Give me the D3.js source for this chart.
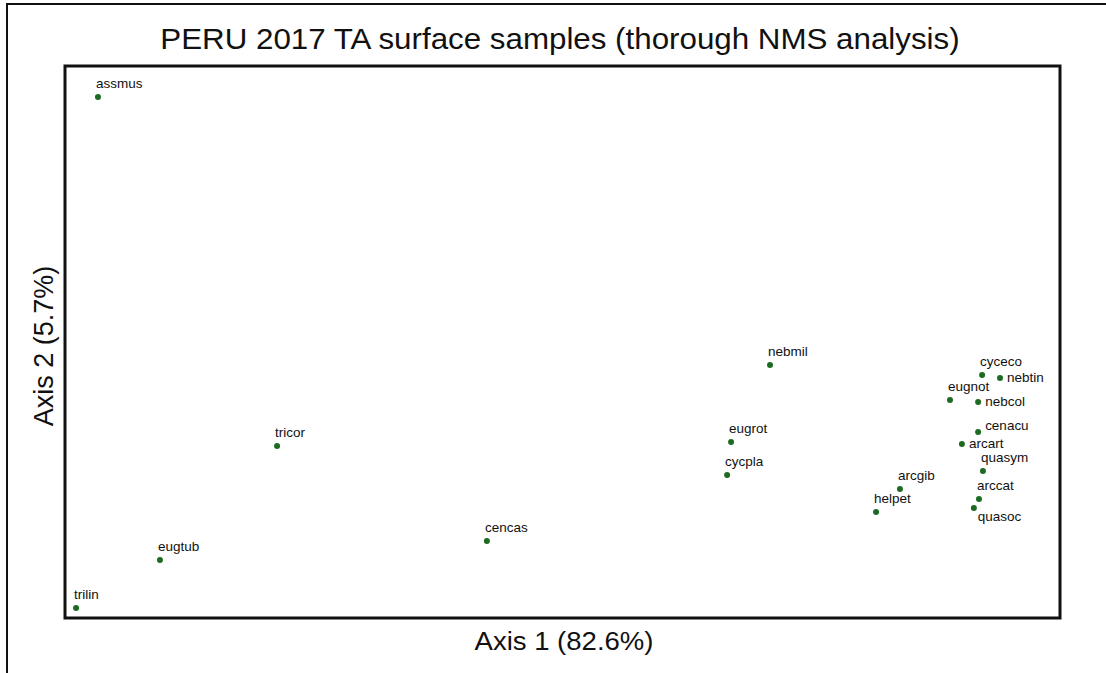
<!DOCTYPE html>
<html>
<head>
<meta charset="utf-8">
<script src="https://cdn.jsdelivr.net/npm/d3@7"></script>
<style>
  body { margin: 0; background: #fff; }
  text { font-family: "Liberation Sans", Arial, sans-serif; fill: #111; }
</style>
</head>
<body>
<div id="chart"></div>
<script>
// species codes and their NMS scores
var species = ["assmus", "trilin", "eugtub", "tricor", "cencas", "nebmil", "eugrot", "cycpla",
               "helpet", "arcgib", "cyceco", "nebtin", "eugnot", "nebcol", "cenacu", "arcart",
               "quasym", "arccat", "quasoc"];
var axis1 = [-1.884, -1.961, -1.666, -1.254, -0.516, 0.480, 0.343, 0.329,
             0.853, 0.937, 1.226, 1.289, 1.113, 1.212, 1.212, 1.155,
             1.229, 1.215, 1.197];
var axis2 = [1.254, -1.153, -0.927, -0.390, -0.837, -0.008, -0.371, -0.526,
             -0.701, -0.592, -0.055, -0.070, -0.173, -0.183, -0.324, -0.380,
             -0.508, -0.640, -0.682];

var title = "PERU 2017 TA surface samples (thorough NMS analysis)";
var xTitle = "Axis 1 (82.6%)";
var yTitle = "Axis 2 (5.7%)";

function init() {
    var w = 1106, h = 673;
    var left = 65, right = 1060, top = 66, bottom = 618;
    var stretch = 1.08; // horizontal text is drawn a little wide

    var svg = d3.select("#chart").append("svg")
        .attr("width", w)
        .attr("height", h);

    // outer frame, cut off at right and bottom
    svg.append("path")
        .attr("d", "M7," + h + " V4 H" + w)
        .attr("fill", "none")
        .attr("stroke", "#111")
        .attr("stroke-width", 2);

    var x = d3.scaleLinear().domain([-2.0, 1.5]).range([left, right]);
    var y = d3.scaleLinear().domain([-1.2, 1.4]).range([bottom, top]);

    // plot box
    svg.append("rect")
        .attr("x", left).attr("y", top)
        .attr("width", right - left).attr("height", bottom - top)
        .attr("fill", "none")
        .attr("stroke", "#111")
        .attr("stroke-width", 3);

    // title and axis titles
    svg.append("text")
        .attr("transform", "translate(560,49) scale(" + stretch + ",1)")
        .attr("text-anchor", "middle")
        .attr("font-size", "29px")
        .text(title);

    svg.append("text")
        .attr("transform", "translate(564,650) scale(" + stretch + ",1)")
        .attr("text-anchor", "middle")
        .attr("font-size", "25.5px")
        .text(xTitle);

    svg.append("text")
        .attr("transform", "translate(53,346) rotate(-90)")
        .attr("text-anchor", "middle")
        .attr("font-size", "27px")
        .text(yTitle);

    // where each label sits relative to its point
    var place = { nebtin: "right", nebcol: "right", arcart: "right", cenacu: "upright", quasoc: "below" };
    function labelPos(name) {
        var p = place[name] || "above";
        if (p === "right") return [7, 4];
        if (p === "upright") return [7, -2];
        if (p === "below") return [4, 13];
        return [-2, -9];
    }

    var data = species.map(function(s, i) { return { name: s, a1: axis1[i], a2: axis2[i] }; });

    var pts = svg.selectAll("g.pt")
        .data(data)
        .enter()
        .append("g")
        .attr("class", "pt")
        .attr("transform", function(d) { return "translate(" + x(d.a1) + "," + y(d.a2) + ")"; });

    pts.append("circle")
        .attr("r", 3)
        .attr("fill", "#1d6b22");

    pts.append("text")
        .attr("transform", function(d) {
            var o = labelPos(d.name);
            return "translate(" + o[0] + "," + o[1] + ") scale(" + stretch + ",1)";
        })
        .attr("font-size", "12.5px")
        .text(function(d) { return d.name; });
}

window.onload = init;
</script>
</body>
</html>
